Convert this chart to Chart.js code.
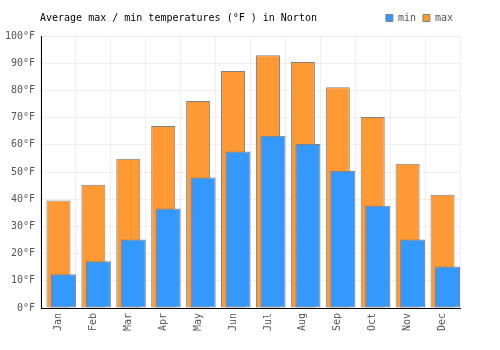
<!DOCTYPE html>
<html>
<head>
<meta charset="utf-8">
<script src="https://cdn.jsdelivr.net/npm/chart.js@4"></script>
<style>
  html, body { margin: 0; padding: 0; background: #fff; }
  #wrap { width: 500px; height: 350px; }
</style>
</head>
<body>
<div id="wrap"><canvas id="tempChart" width="500" height="350"></canvas></div>
<script>
const months = ['Jan', 'Feb', 'Mar', 'Apr', 'May', 'Jun', 'Jul', 'Aug', 'Sep', 'Oct', 'Nov', 'Dec'];
const minTemps = [12.4, 17.2, 25.2, 36.6, 48.0, 57.5, 63.3, 60.3, 50.4, 37.6, 25.2, 15.3];
const maxTemps = [39.5, 45.3, 54.9, 66.9, 76.1, 87.1, 92.9, 90.4, 81.2, 70.2, 53.0, 41.6];
const yTicks = [0, 10, 20, 30, 40, 50, 60, 70, 80, 90, 100];
const titleText = 'Average max / min temperatures (°F ) in Norton';

const monoFont = { family: "'DejaVu Sans Mono', monospace", size: 10 };

// title drawn on the same line as the legend
const titlePlugin = {
    id: 'lineTitle',
    afterDraw(chart) {
        const ctx = chart.ctx;
        ctx.save();
        ctx.font = "10px 'DejaVu Sans Mono', monospace";
        ctx.fillStyle = '#000';
        ctx.textBaseline = 'middle';
        ctx.textAlign = 'left';
        ctx.fillText(titleText, 40, 18);
        ctx.restore();
    }
};

const ctx = document.getElementById('tempChart').getContext('2d');
const chart = new Chart(ctx, {
    type: 'bar',
    data: {
        labels: months,
        datasets: [
            {
                // empty slot so the min bars sit right of centre
                label: '_pad',
                data: [],
                stack: 'pad',
                categoryPercentage: 0.573,
                barPercentage: 2.5
            },
            {
                label: 'min',
                data: minTemps,
                stack: 'min',
                backgroundColor: 'rgb(51, 153, 255)',
                borderColor: 'rgb(128, 128, 128)',
                borderWidth: 1,
                borderSkipped: false,
                categoryPercentage: 0.573,
                barPercentage: 2.5
            },
            {
                label: 'max',
                data: maxTemps,
                grouped: false,
                backgroundColor: 'rgb(255, 153, 51)',
                borderColor: 'rgb(128, 128, 128)',
                borderWidth: 1,
                borderSkipped: false,
                categoryPercentage: 0.8,
                barPercentage: 0.86
            }
        ]
    },
    options: {
        responsive: false,
        animation: false,
        layout: { padding: { left: 0, right: 40, top: 6, bottom: 0 } },
        plugins: {
            title: { display: false },
            tooltip: { enabled: false },
            legend: {
                position: 'top',
                align: 'end',
                labels: {
                    filter: item => item.text !== '_pad',
                    boxWidth: 7,
                    boxHeight: 7,
                    padding: 7,
                    color: '#555',
                    font: monoFont
                }
            }
        },
        scales: {
            x: {
                grid: { color: '#eee', drawTicks: false },
                border: { color: '#000', width: 1 },
                ticks: {
                    color: '#555',
                    font: monoFont,
                    maxRotation: 90,
                    minRotation: 90,
                    padding: 5
                },
                afterFit: s => { s.height = 42; }
            },
            y: {
                min: 0,
                max: 100,
                afterBuildTicks: s => { s.ticks = yTicks.map(v => ({ value: v })); },
                grid: { color: '#eee', drawTicks: false },
                border: { color: '#000', width: 1 },
                ticks: {
                    color: '#555',
                    font: monoFont,
                    padding: 6,
                    callback: v => v + '°F'
                },
                afterFit: s => { s.width = 41; }
            }
        }
    },
    plugins: [titlePlugin]
});

// a little more room under the legend row
const legendFit = chart.legend.fit;
chart.legend.fit = function () {
    legendFit.call(this);
    this.height += 3;
};
chart.update();
</script>
</body>
</html>
